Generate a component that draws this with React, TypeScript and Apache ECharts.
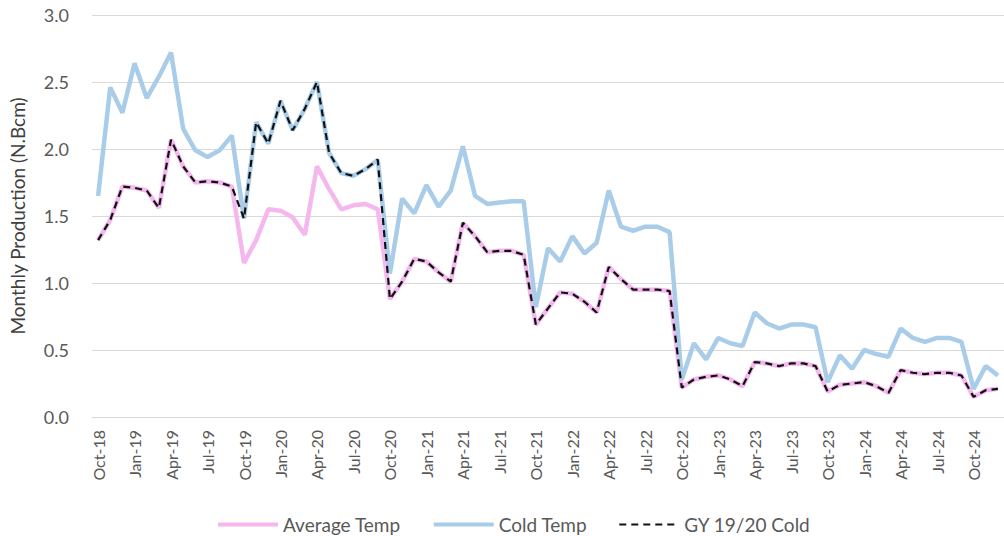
import React, { useEffect, useRef } from "react";
import * as echarts from "echarts";

const categories = [
  "Oct-18","Nov-18","Dec-18","Jan-19","Feb-19","Mar-19","Apr-19","May-19","Jun-19","Jul-19","Aug-19","Sep-19",
  "Oct-19","Nov-19","Dec-19","Jan-20","Feb-20","Mar-20","Apr-20","May-20","Jun-20","Jul-20","Aug-20","Sep-20",
  "Oct-20","Nov-20","Dec-20","Jan-21","Feb-21","Mar-21","Apr-21","May-21","Jun-21","Jul-21","Aug-21","Sep-21",
  "Oct-21","Nov-21","Dec-21","Jan-22","Feb-22","Mar-22","Apr-22","May-22","Jun-22","Jul-22","Aug-22","Sep-22",
  "Oct-22","Nov-22","Dec-22","Jan-23","Feb-23","Mar-23","Apr-23","May-23","Jun-23","Jul-23","Aug-23","Sep-23",
  "Oct-23","Nov-23","Dec-23","Jan-24","Feb-24","Mar-24","Apr-24","May-24","Jun-24","Jul-24","Aug-24","Sep-24",
  "Oct-24","Nov-24","Dec-24",
];

const averageTemp = [
  1.32, 1.47, 1.72, 1.71, 1.69, 1.56, 2.07, 1.87, 1.75, 1.76, 1.75, 1.72,
  1.15, 1.32, 1.55, 1.54, 1.49, 1.36, 1.87, 1.70, 1.55, 1.58, 1.59, 1.55,
  0.88, 1.01, 1.18, 1.16, 1.08, 1.01, 1.45, 1.35, 1.23, 1.24, 1.24, 1.21,
  0.69, 0.81, 0.93, 0.92, 0.86, 0.78, 1.12, 1.03, 0.95, 0.95, 0.95, 0.94,
  0.22, 0.28, 0.30, 0.31, 0.28, 0.23, 0.41, 0.40, 0.38, 0.40, 0.40, 0.38,
  0.19, 0.24, 0.25, 0.26, 0.23, 0.18, 0.35, 0.33, 0.32, 0.33, 0.33, 0.31,
  0.15, 0.20, 0.21,
];

const coldTemp = [
  1.65, 2.46, 2.27, 2.64, 2.38, 2.54, 2.72, 2.15, 1.99, 1.94, 1.99, 2.10,
  1.48, 2.20, 2.04, 2.36, 2.14, 2.30, 2.50, 1.97, 1.82, 1.80, 1.85, 1.92,
  1.07, 1.63, 1.52, 1.73, 1.57, 1.69, 2.02, 1.65, 1.59, 1.60, 1.61, 1.61,
  0.82, 1.26, 1.16, 1.35, 1.22, 1.30, 1.69, 1.42, 1.39, 1.42, 1.42, 1.38,
  0.28, 0.55, 0.43, 0.59, 0.55, 0.53, 0.78, 0.70, 0.66, 0.69, 0.69, 0.67,
  0.26, 0.46, 0.36, 0.50, 0.47, 0.45, 0.66, 0.59, 0.56, 0.59, 0.59, 0.56,
  0.21, 0.38, 0.31,
];

// GY 19/20 (Oct-19 .. Sep-20) at cold temperature, average temperature otherwise
const gyStart = "Oct-19";
const gyEnd = "Sep-20";

const yTicks = [0, 0.5, 1.0, 1.5, 2.0, 2.5, 3.0];

export default function App() {
  const ref = useRef<HTMLDivElement>(null);

  useEffect(() => {
    if (!ref.current) return;
    const chart = echarts.init(ref.current, undefined, { renderer: "svg" });
    const s = categories.indexOf(gyStart);
    const e = categories.indexOf(gyEnd);
    const gyCold = averageTemp.map((v, i) => (i >= s && i <= e ? coldTemp[i] : v));
    const font = "Lato, 'Open Sans', sans-serif";

    chart.setOption({
      animation: false,
      backgroundColor: "#ffffff",
      textStyle: { fontFamily: font },
      grid: { left: 88, right: -6.5, top: 15, bottom: 119, containLabel: false },
      legend: {
        left: 211,
        top: 510,
        itemWidth: 60,
        itemHeight: 14,
        itemGap: 31,
        itemStyle: { opacity: 0 },
        textStyle: { fontSize: 19, color: "#595959", fontFamily: font },
        data: [
          { name: "Average Temp", lineStyle: { width: 4 } },
          { name: "Cold Temp", lineStyle: { width: 4 } },
          { name: "GY 19/20 Cold", lineStyle: { width: 2.2 } },
        ],
      },
      xAxis: {
        type: "category",
        data: categories,
        boundaryGap: true,
        axisTick: { show: false },
        axisLine: { lineStyle: { color: "#d9d9d9", width: 1 } },
        axisLabel: {
          interval: 2,
          rotate: 90,
          fontSize: 16,
          margin: 13,
          color: "#595959",
          fontFamily: font,
        },
        splitLine: { show: false },
      },
      yAxis: {
        type: "value",
        min: yTicks[0],
        max: yTicks[yTicks.length - 1],
        interval: 0.5,
        name: "Monthly Production (N.Bcm)",
        nameLocation: "middle",
        nameGap: 65,
        nameTextStyle: { fontSize: 19, color: "#404040", fontFamily: font },
        axisLine: { show: false },
        axisTick: { show: false },
        axisLabel: {
          fontSize: 18,
          margin: 23,
          color: "#595959",
          fontFamily: font,
          formatter: (v: number) => v.toFixed(1),
        },
        splitLine: { lineStyle: { color: "#d9d9d9", width: 1 } },
      },
      series: [
        {
          name: "Average Temp",
          type: "line",
          data: averageTemp,
          symbol: "none",
          lineStyle: { color: "#F4B8EE", width: 4.5 },
          itemStyle: { color: "#F4B8EE" },
          z: 2,
        },
        {
          name: "Cold Temp",
          type: "line",
          data: coldTemp,
          symbol: "none",
          lineStyle: { color: "#A9CDE9", width: 4.5 },
          itemStyle: { color: "#A9CDE9" },
          z: 3,
        },
        {
          name: "GY 19/20 Cold",
          type: "line",
          data: gyCold,
          symbol: "none",
          lineStyle: { color: "#111111", width: 2.2, type: [7, 5] },
          itemStyle: { color: "#111111" },
          z: 4,
        },
      ],
    });
    return () => chart.dispose();
  }, []);

  return (
    <div
      ref={ref}
      style={{ position: "absolute", left: 0, top: 0, width: 1004, height: 536 }}
    />
  );
}
